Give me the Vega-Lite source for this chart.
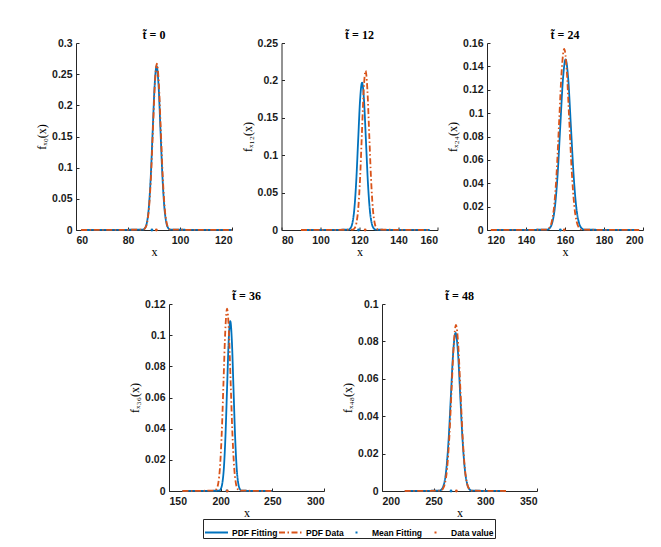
{
  "$schema": "https://vega.github.io/schema/vega-lite/v6.json",
  "padding": {"left": 35, "top": 29, "right": 5, "bottom": 2},
  "spacing": 32,
  "datasets": {
    "curves": [
      {"t": 0, "series": "PDF Fitting", "x": 62, "y": 0},
      {"t": 0, "series": "PDF Fitting", "x": 85.75, "y": 0.0006},
      {"t": 0, "series": "PDF Fitting", "x": 86.5, "y": 0.0029},
      {"t": 0, "series": "PDF Fitting", "x": 87.25, "y": 0.0115},
      {"t": 0, "series": "PDF Fitting", "x": 88, "y": 0.0356},
      {"t": 0, "series": "PDF Fitting", "x": 88.75, "y": 0.0854},
      {"t": 0, "series": "PDF Fitting", "x": 89.5, "y": 0.1595},
      {"t": 0, "series": "PDF Fitting", "x": 90.25, "y": 0.2321},
      {"t": 0, "series": "PDF Fitting", "x": 91, "y": 0.263},
      {"t": 0, "series": "PDF Fitting", "x": 91.75, "y": 0.2321},
      {"t": 0, "series": "PDF Fitting", "x": 92.5, "y": 0.1595},
      {"t": 0, "series": "PDF Fitting", "x": 93.25, "y": 0.0854},
      {"t": 0, "series": "PDF Fitting", "x": 94, "y": 0.0356},
      {"t": 0, "series": "PDF Fitting", "x": 94.75, "y": 0.0115},
      {"t": 0, "series": "PDF Fitting", "x": 95.5, "y": 0.0029},
      {"t": 0, "series": "PDF Fitting", "x": 96.25, "y": 0.0006},
      {"t": 0, "series": "PDF Fitting", "x": 120, "y": 0},
      {"t": 0, "series": "PDF Data", "x": 62, "y": 0},
      {"t": 0, "series": "PDF Data", "x": 85.85, "y": 0.0006},
      {"t": 0, "series": "PDF Data", "x": 86.6, "y": 0.003},
      {"t": 0, "series": "PDF Data", "x": 87.35, "y": 0.0117},
      {"t": 0, "series": "PDF Data", "x": 88.1, "y": 0.0361},
      {"t": 0, "series": "PDF Data", "x": 88.85, "y": 0.0867},
      {"t": 0, "series": "PDF Data", "x": 89.6, "y": 0.1619},
      {"t": 0, "series": "PDF Data", "x": 90.35, "y": 0.2356},
      {"t": 0, "series": "PDF Data", "x": 91.1, "y": 0.267},
      {"t": 0, "series": "PDF Data", "x": 91.85, "y": 0.2356},
      {"t": 0, "series": "PDF Data", "x": 92.6, "y": 0.1619},
      {"t": 0, "series": "PDF Data", "x": 93.35, "y": 0.0867},
      {"t": 0, "series": "PDF Data", "x": 94.1, "y": 0.0361},
      {"t": 0, "series": "PDF Data", "x": 94.85, "y": 0.0117},
      {"t": 0, "series": "PDF Data", "x": 95.6, "y": 0.003},
      {"t": 0, "series": "PDF Data", "x": 96.35, "y": 0.0006},
      {"t": 0, "series": "PDF Data", "x": 120, "y": 0},
      {"t": 12, "series": "PDF Fitting", "x": 90, "y": 0},
      {"t": 12, "series": "PDF Fitting", "x": 114.3, "y": 0.0004},
      {"t": 12, "series": "PDF Fitting", "x": 115.3, "y": 0.0022},
      {"t": 12, "series": "PDF Fitting", "x": 116.3, "y": 0.0086},
      {"t": 12, "series": "PDF Fitting", "x": 117.3, "y": 0.0267},
      {"t": 12, "series": "PDF Fitting", "x": 118.3, "y": 0.064},
      {"t": 12, "series": "PDF Fitting", "x": 119.3, "y": 0.1195},
      {"t": 12, "series": "PDF Fitting", "x": 120.3, "y": 0.1739},
      {"t": 12, "series": "PDF Fitting", "x": 121.3, "y": 0.197},
      {"t": 12, "series": "PDF Fitting", "x": 122.3, "y": 0.1739},
      {"t": 12, "series": "PDF Fitting", "x": 123.3, "y": 0.1195},
      {"t": 12, "series": "PDF Fitting", "x": 124.3, "y": 0.064},
      {"t": 12, "series": "PDF Fitting", "x": 125.3, "y": 0.0267},
      {"t": 12, "series": "PDF Fitting", "x": 126.3, "y": 0.0086},
      {"t": 12, "series": "PDF Fitting", "x": 127.3, "y": 0.0022},
      {"t": 12, "series": "PDF Fitting", "x": 128.3, "y": 0.0004},
      {"t": 12, "series": "PDF Fitting", "x": 156, "y": 0},
      {"t": 12, "series": "PDF Data", "x": 90, "y": 0},
      {"t": 12, "series": "PDF Data", "x": 116.56, "y": 0.0005},
      {"t": 12, "series": "PDF Data", "x": 117.49, "y": 0.0024},
      {"t": 12, "series": "PDF Data", "x": 118.43, "y": 0.0094},
      {"t": 12, "series": "PDF Data", "x": 119.36, "y": 0.0288},
      {"t": 12, "series": "PDF Data", "x": 120.3, "y": 0.0692},
      {"t": 12, "series": "PDF Data", "x": 121.23, "y": 0.1292},
      {"t": 12, "series": "PDF Data", "x": 122.17, "y": 0.188},
      {"t": 12, "series": "PDF Data", "x": 123.1, "y": 0.213},
      {"t": 12, "series": "PDF Data", "x": 124.04, "y": 0.188},
      {"t": 12, "series": "PDF Data", "x": 124.97, "y": 0.1292},
      {"t": 12, "series": "PDF Data", "x": 125.91, "y": 0.0692},
      {"t": 12, "series": "PDF Data", "x": 126.84, "y": 0.0288},
      {"t": 12, "series": "PDF Data", "x": 127.78, "y": 0.0094},
      {"t": 12, "series": "PDF Data", "x": 128.71, "y": 0.0024},
      {"t": 12, "series": "PDF Data", "x": 129.65, "y": 0.0005},
      {"t": 12, "series": "PDF Data", "x": 156, "y": 0},
      {"t": 24, "series": "PDF Fitting", "x": 122, "y": 0},
      {"t": 24, "series": "PDF Fitting", "x": 150.75, "y": 0.0003},
      {"t": 24, "series": "PDF Fitting", "x": 152.11, "y": 0.0016},
      {"t": 24, "series": "PDF Fitting", "x": 153.48, "y": 0.0064},
      {"t": 24, "series": "PDF Fitting", "x": 154.84, "y": 0.0198},
      {"t": 24, "series": "PDF Fitting", "x": 156.21, "y": 0.0474},
      {"t": 24, "series": "PDF Fitting", "x": 157.57, "y": 0.0885},
      {"t": 24, "series": "PDF Fitting", "x": 158.94, "y": 0.1288},
      {"t": 24, "series": "PDF Fitting", "x": 160.3, "y": 0.146},
      {"t": 24, "series": "PDF Fitting", "x": 161.67, "y": 0.1288},
      {"t": 24, "series": "PDF Fitting", "x": 163.03, "y": 0.0885},
      {"t": 24, "series": "PDF Fitting", "x": 164.4, "y": 0.0474},
      {"t": 24, "series": "PDF Fitting", "x": 165.76, "y": 0.0198},
      {"t": 24, "series": "PDF Fitting", "x": 167.13, "y": 0.0064},
      {"t": 24, "series": "PDF Fitting", "x": 168.49, "y": 0.0016},
      {"t": 24, "series": "PDF Fitting", "x": 169.86, "y": 0.0003},
      {"t": 24, "series": "PDF Fitting", "x": 198, "y": 0},
      {"t": 24, "series": "PDF Data", "x": 122, "y": 0},
      {"t": 24, "series": "PDF Data", "x": 150.61, "y": 0.0003},
      {"t": 24, "series": "PDF Data", "x": 151.89, "y": 0.0017},
      {"t": 24, "series": "PDF Data", "x": 153.18, "y": 0.0068},
      {"t": 24, "series": "PDF Data", "x": 154.46, "y": 0.021},
      {"t": 24, "series": "PDF Data", "x": 155.75, "y": 0.0503},
      {"t": 24, "series": "PDF Data", "x": 157.03, "y": 0.094},
      {"t": 24, "series": "PDF Data", "x": 158.32, "y": 0.1368},
      {"t": 24, "series": "PDF Data", "x": 159.6, "y": 0.155},
      {"t": 24, "series": "PDF Data", "x": 160.89, "y": 0.1368},
      {"t": 24, "series": "PDF Data", "x": 162.17, "y": 0.094},
      {"t": 24, "series": "PDF Data", "x": 163.46, "y": 0.0503},
      {"t": 24, "series": "PDF Data", "x": 164.74, "y": 0.021},
      {"t": 24, "series": "PDF Data", "x": 166.03, "y": 0.0068},
      {"t": 24, "series": "PDF Data", "x": 167.31, "y": 0.0017},
      {"t": 24, "series": "PDF Data", "x": 168.6, "y": 0.0003},
      {"t": 24, "series": "PDF Data", "x": 198, "y": 0},
      {"t": 36, "series": "PDF Fitting", "x": 163, "y": 0},
      {"t": 36, "series": "PDF Fitting", "x": 198.45, "y": 0.0002},
      {"t": 36, "series": "PDF Fitting", "x": 200, "y": 0.0012},
      {"t": 36, "series": "PDF Fitting", "x": 201.55, "y": 0.0048},
      {"t": 36, "series": "PDF Fitting", "x": 203.1, "y": 0.0147},
      {"t": 36, "series": "PDF Fitting", "x": 204.65, "y": 0.0354},
      {"t": 36, "series": "PDF Fitting", "x": 206.2, "y": 0.0661},
      {"t": 36, "series": "PDF Fitting", "x": 207.75, "y": 0.0962},
      {"t": 36, "series": "PDF Fitting", "x": 209.3, "y": 0.109},
      {"t": 36, "series": "PDF Fitting", "x": 210.85, "y": 0.0962},
      {"t": 36, "series": "PDF Fitting", "x": 212.4, "y": 0.0661},
      {"t": 36, "series": "PDF Fitting", "x": 213.95, "y": 0.0354},
      {"t": 36, "series": "PDF Fitting", "x": 215.5, "y": 0.0147},
      {"t": 36, "series": "PDF Fitting", "x": 217.05, "y": 0.0048},
      {"t": 36, "series": "PDF Fitting", "x": 218.6, "y": 0.0012},
      {"t": 36, "series": "PDF Fitting", "x": 220.15, "y": 0.0002},
      {"t": 36, "series": "PDF Fitting", "x": 250, "y": 0},
      {"t": 36, "series": "PDF Data", "x": 163, "y": 0},
      {"t": 36, "series": "PDF Data", "x": 194.3, "y": 0.0003},
      {"t": 36, "series": "PDF Data", "x": 196, "y": 0.0013},
      {"t": 36, "series": "PDF Data", "x": 197.7, "y": 0.0051},
      {"t": 36, "series": "PDF Data", "x": 199.4, "y": 0.0158},
      {"t": 36, "series": "PDF Data", "x": 201.1, "y": 0.038},
      {"t": 36, "series": "PDF Data", "x": 202.8, "y": 0.071},
      {"t": 36, "series": "PDF Data", "x": 204.5, "y": 0.1033},
      {"t": 36, "series": "PDF Data", "x": 206.2, "y": 0.117},
      {"t": 36, "series": "PDF Data", "x": 207.9, "y": 0.1033},
      {"t": 36, "series": "PDF Data", "x": 209.6, "y": 0.071},
      {"t": 36, "series": "PDF Data", "x": 211.3, "y": 0.038},
      {"t": 36, "series": "PDF Data", "x": 213, "y": 0.0158},
      {"t": 36, "series": "PDF Data", "x": 214.7, "y": 0.0051},
      {"t": 36, "series": "PDF Data", "x": 216.4, "y": 0.0013},
      {"t": 36, "series": "PDF Data", "x": 218.1, "y": 0.0003},
      {"t": 36, "series": "PDF Data", "x": 250, "y": 0},
      {"t": 48, "series": "PDF Fitting", "x": 222, "y": 0},
      {"t": 48, "series": "PDF Fitting", "x": 255.45, "y": 0.0002},
      {"t": 48, "series": "PDF Fitting", "x": 257.7, "y": 0.0009},
      {"t": 48, "series": "PDF Fitting", "x": 259.95, "y": 0.0037},
      {"t": 48, "series": "PDF Fitting", "x": 262.2, "y": 0.0114},
      {"t": 48, "series": "PDF Fitting", "x": 264.45, "y": 0.0274},
      {"t": 48, "series": "PDF Fitting", "x": 266.7, "y": 0.0512},
      {"t": 48, "series": "PDF Fitting", "x": 268.95, "y": 0.0746},
      {"t": 48, "series": "PDF Fitting", "x": 271.2, "y": 0.0845},
      {"t": 48, "series": "PDF Fitting", "x": 273.45, "y": 0.0746},
      {"t": 48, "series": "PDF Fitting", "x": 275.7, "y": 0.0512},
      {"t": 48, "series": "PDF Fitting", "x": 277.95, "y": 0.0274},
      {"t": 48, "series": "PDF Fitting", "x": 280.2, "y": 0.0114},
      {"t": 48, "series": "PDF Fitting", "x": 282.45, "y": 0.0037},
      {"t": 48, "series": "PDF Fitting", "x": 284.7, "y": 0.0009},
      {"t": 48, "series": "PDF Fitting", "x": 286.95, "y": 0.0002},
      {"t": 48, "series": "PDF Fitting", "x": 320, "y": 0},
      {"t": 48, "series": "PDF Data", "x": 222, "y": 0},
      {"t": 48, "series": "PDF Data", "x": 256.55, "y": 0.0002},
      {"t": 48, "series": "PDF Data", "x": 258.7, "y": 0.001},
      {"t": 48, "series": "PDF Data", "x": 260.85, "y": 0.0039},
      {"t": 48, "series": "PDF Data", "x": 263, "y": 0.012},
      {"t": 48, "series": "PDF Data", "x": 265.15, "y": 0.0288},
      {"t": 48, "series": "PDF Data", "x": 267.3, "y": 0.0539},
      {"t": 48, "series": "PDF Data", "x": 269.45, "y": 0.0784},
      {"t": 48, "series": "PDF Data", "x": 271.6, "y": 0.0888},
      {"t": 48, "series": "PDF Data", "x": 273.75, "y": 0.0784},
      {"t": 48, "series": "PDF Data", "x": 275.9, "y": 0.0539},
      {"t": 48, "series": "PDF Data", "x": 278.05, "y": 0.0288},
      {"t": 48, "series": "PDF Data", "x": 280.2, "y": 0.012},
      {"t": 48, "series": "PDF Data", "x": 282.35, "y": 0.0039},
      {"t": 48, "series": "PDF Data", "x": 284.5, "y": 0.001},
      {"t": 48, "series": "PDF Data", "x": 286.65, "y": 0.0002},
      {"t": 48, "series": "PDF Data", "x": 320, "y": 0}
    ],
    "means": [
      {"t": 0, "series": "Mean Fitting", "x": 89.2, "y": 0},
      {"t": 0, "series": "Data value", "x": 90.9, "y": 0},
      {"t": 12, "series": "Mean Fitting", "x": 119.5, "y": 0},
      {"t": 12, "series": "Data value", "x": 122.9, "y": 0},
      {"t": 24, "series": "Mean Fitting", "x": 157.6, "y": 0},
      {"t": 24, "series": "Data value", "x": 159.6, "y": 0},
      {"t": 36, "series": "Mean Fitting", "x": 206, "y": 0},
      {"t": 36, "series": "Data value", "x": 206.4, "y": 0},
      {"t": 48, "series": "Mean Fitting", "x": 266.8, "y": 0},
      {"t": 48, "series": "Data value", "x": 272, "y": 0}
    ]
  },
  "vconcat": [
    {
      "hconcat": [
        {
          "width": 156, "height": 187,
          "title": "t\u0303 = 0",
          "encoding": {
            "x": {"field": "x", "type": "quantitative", "scale": {"domain": [60, 120], "nice": false, "zero": false}, "axis": {"values": [60, 80, 100, 120], "title": "x"}},
            "y": {"field": "y", "type": "quantitative", "scale": {"domain": [0, 0.3], "nice": false}, "axis": {"values": [0, 0.05, 0.1, 0.15, 0.2, 0.25, 0.3], "format": ".2~f", "title": "fₓ₀(x)"}}
          },
          "layer": [
            {"data": {"name": "curves"}, "transform": [{"filter": "datum.t == 0 && datum.series == 'PDF Fitting'"}], "mark": {"type": "line", "interpolate": "monotone", "strokeWidth": 1.8},
             "encoding": {
               "color": {"field": "series", "type": "nominal", "scale": {"domain": ["PDF Fitting", "PDF Data", "Mean Fitting", "Data value"], "range": ["#0072BD", "#D95319", "#0072BD", "#D95319"]}, "legend": {"title": null, "symbolType": "stroke"}},
               "strokeDash": {"field": "series", "type": "nominal", "scale": {"domain": ["PDF Fitting", "PDF Data", "Mean Fitting", "Data value"], "range": [[1, 0], [6, 2.5, 1.5, 2.5], [0, 10.5, 2, 100], [0, 10.5, 2, 100]]}, "legend": {"title": null, "symbolType": "stroke"}}
             }},
            {"data": {"name": "curves"}, "transform": [{"filter": "datum.t == 0 && datum.series == 'PDF Data'"}], "mark": {"type": "line", "interpolate": "monotone", "strokeWidth": 1.8},
             "encoding": {
               "color": {"field": "series", "type": "nominal", "legend": {"title": null, "symbolType": "stroke"}},
               "strokeDash": {"field": "series", "type": "nominal", "legend": {"title": null, "symbolType": "stroke"}}
             }},
            {"data": {"name": "means"}, "transform": [{"filter": "datum.t == 0"}], "mark": {"type": "point", "filled": true, "size": 8, "opacity": 1},
             "encoding": {"color": {"field": "series", "type": "nominal", "legend": null}}}
          ]
        },
        {
          "width": 156, "height": 187,
          "title": "t\u0303 = 12",
          "encoding": {
            "x": {"field": "x", "type": "quantitative", "scale": {"domain": [80, 160], "nice": false, "zero": false}, "axis": {"values": [80, 100, 120, 140, 160], "title": "x"}},
            "y": {"field": "y", "type": "quantitative", "scale": {"domain": [0, 0.25], "nice": false}, "axis": {"values": [0, 0.05, 0.1, 0.15, 0.2, 0.25], "format": ".2~f", "title": "fₓ₁₂(x)"}}
          },
          "layer": [
            {"data": {"name": "curves"}, "transform": [{"filter": "datum.t == 12 && datum.series == 'PDF Fitting'"}], "mark": {"type": "line", "interpolate": "monotone", "strokeWidth": 1.8},
             "encoding": {
               "color": {"field": "series", "type": "nominal", "legend": {"title": null, "symbolType": "stroke"}},
               "strokeDash": {"field": "series", "type": "nominal", "legend": {"title": null, "symbolType": "stroke"}}
             }},
            {"data": {"name": "curves"}, "transform": [{"filter": "datum.t == 12 && datum.series == 'PDF Data'"}], "mark": {"type": "line", "interpolate": "monotone", "strokeWidth": 1.8},
             "encoding": {
               "color": {"field": "series", "type": "nominal", "legend": {"title": null, "symbolType": "stroke"}},
               "strokeDash": {"field": "series", "type": "nominal", "legend": {"title": null, "symbolType": "stroke"}}
             }},
            {"data": {"name": "means"}, "transform": [{"filter": "datum.t == 12"}], "mark": {"type": "point", "filled": true, "size": 8, "opacity": 1},
             "encoding": {"color": {"field": "series", "type": "nominal", "legend": null}}}
          ]
        },
        {
          "width": 156, "height": 187,
          "title": "t\u0303 = 24",
          "encoding": {
            "x": {"field": "x", "type": "quantitative", "scale": {"domain": [120, 200], "nice": false, "zero": false}, "axis": {"values": [120, 140, 160, 180, 200], "title": "x"}},
            "y": {"field": "y", "type": "quantitative", "scale": {"domain": [0, 0.16], "nice": false}, "axis": {"values": [0, 0.02, 0.04, 0.06, 0.08, 0.1, 0.12, 0.14, 0.16], "format": ".2~f", "title": "fₓ₂₄(x)"}}
          },
          "layer": [
            {"data": {"name": "curves"}, "transform": [{"filter": "datum.t == 24 && datum.series == 'PDF Fitting'"}], "mark": {"type": "line", "interpolate": "monotone", "strokeWidth": 1.8},
             "encoding": {
               "color": {"field": "series", "type": "nominal", "legend": {"title": null, "symbolType": "stroke"}},
               "strokeDash": {"field": "series", "type": "nominal", "legend": {"title": null, "symbolType": "stroke"}}
             }},
            {"data": {"name": "curves"}, "transform": [{"filter": "datum.t == 24 && datum.series == 'PDF Data'"}], "mark": {"type": "line", "interpolate": "monotone", "strokeWidth": 1.8},
             "encoding": {
               "color": {"field": "series", "type": "nominal", "legend": {"title": null, "symbolType": "stroke"}},
               "strokeDash": {"field": "series", "type": "nominal", "legend": {"title": null, "symbolType": "stroke"}}
             }},
            {"data": {"name": "means"}, "transform": [{"filter": "datum.t == 24"}], "mark": {"type": "point", "filled": true, "size": 8, "opacity": 1},
             "encoding": {"color": {"field": "series", "type": "nominal", "legend": null}}}
          ]
        }
      ],
      "bounds": "flush",
      "spacing": 49.5
    },
    {
      "hconcat": [
        {
          "width": 35, "height": 187,
          "data": {"values": []},
          "mark": "point"
        },
        {
          "width": 155, "height": 187,
          "title": "t\u0303 = 36",
          "encoding": {
            "x": {"field": "x", "type": "quantitative", "scale": {"domain": [150, 300], "nice": false, "zero": false}, "axis": {"values": [150, 200, 250, 300], "title": "x"}},
            "y": {"field": "y", "type": "quantitative", "scale": {"domain": [0, 0.12], "nice": false}, "axis": {"values": [0, 0.02, 0.04, 0.06, 0.08, 0.1, 0.12], "format": ".2~f", "title": "fₓ₃₆(x)"}}
          },
          "layer": [
            {"data": {"name": "curves"}, "transform": [{"filter": "datum.t == 36 && datum.series == 'PDF Fitting'"}], "mark": {"type": "line", "interpolate": "monotone", "strokeWidth": 1.8},
             "encoding": {
               "color": {"field": "series", "type": "nominal", "legend": {"title": null, "symbolType": "stroke"}},
               "strokeDash": {"field": "series", "type": "nominal", "legend": {"title": null, "symbolType": "stroke"}}
             }},
            {"data": {"name": "curves"}, "transform": [{"filter": "datum.t == 36 && datum.series == 'PDF Data'"}], "mark": {"type": "line", "interpolate": "monotone", "strokeWidth": 1.8},
             "encoding": {
               "color": {"field": "series", "type": "nominal", "legend": {"title": null, "symbolType": "stroke"}},
               "strokeDash": {"field": "series", "type": "nominal", "legend": {"title": null, "symbolType": "stroke"}}
             }},
            {"data": {"name": "means"}, "transform": [{"filter": "datum.t == 36"}], "mark": {"type": "point", "filled": true, "size": 8, "opacity": 1},
             "encoding": {"color": {"field": "series", "type": "nominal", "legend": null}}}
          ]
        },
        {
          "width": 155, "height": 187,
          "title": "t\u0303 = 48",
          "encoding": {
            "x": {"field": "x", "type": "quantitative", "scale": {"domain": [200, 350], "nice": false, "zero": false}, "axis": {"values": [200, 250, 300, 350], "title": "x"}},
            "y": {"field": "y", "type": "quantitative", "scale": {"domain": [0, 0.1], "nice": false}, "axis": {"values": [0, 0.02, 0.04, 0.06, 0.08, 0.1], "format": ".2~f", "title": "fₓ₄₈(x)"}}
          },
          "layer": [
            {"data": {"name": "curves"}, "transform": [{"filter": "datum.t == 48 && datum.series == 'PDF Fitting'"}], "mark": {"type": "line", "interpolate": "monotone", "strokeWidth": 1.8},
             "encoding": {
               "color": {"field": "series", "type": "nominal", "legend": {"title": null, "symbolType": "stroke"}},
               "strokeDash": {"field": "series", "type": "nominal", "legend": {"title": null, "symbolType": "stroke"}}
             }},
            {"data": {"name": "curves"}, "transform": [{"filter": "datum.t == 48 && datum.series == 'PDF Data'"}], "mark": {"type": "line", "interpolate": "monotone", "strokeWidth": 1.8},
             "encoding": {
               "color": {"field": "series", "type": "nominal", "legend": {"title": null, "symbolType": "stroke"}},
               "strokeDash": {"field": "series", "type": "nominal", "legend": {"title": null, "symbolType": "stroke"}}
             }},
            {"data": {"name": "means"}, "transform": [{"filter": "datum.t == 48"}], "mark": {"type": "point", "filled": true, "size": 8, "opacity": 1},
             "encoding": {"color": {"field": "series", "type": "nominal", "legend": null}}}
          ]
        }
      ],
      "bounds": "flush",
      "spacing": 58
    }
  ],
  "config": {
    "view": {"stroke": null},
    "axis": {
      "grid": false,
      "domainColor": "#262626",
      "tickColor": "#262626",
      "labelColor": "#1a1a1a",
      "labelFont": "Liberation Sans",
      "labelFontWeight": "bold",
      "labelFontSize": 10.5,
      "tickSize": -3,
      "titleFont": "Liberation Serif",
      "titleFontWeight": "normal",
      "titleFontSize": 12,
      "titleColor": "#000000"
    },
    "axisX": {"labelPadding": 8, "titlePadding": 1},
    "axisY": {"labelPadding": 7, "titlePadding": 3},
    "title": {"font": "Liberation Serif", "fontSize": 12, "fontWeight": "bold", "color": "#000000", "offset": -4},
    "legend": {
      "orient": "none",
      "legendX": 127,
      "legendY": 476,
      "direction": "horizontal",
      "columns": 4,
      "symbolSize": 529,
      "symbolStrokeWidth": 2,
      "labelFont": "Liberation Sans",
      "labelFontWeight": "bold",
      "labelFontSize": 8.5,
      "labelColor": "#000000",
      "labelOffset": 3,
      "columnPadding": -8,
      "padding": 1,
      "strokeColor": "#262626",
      "fillColor": "#ffffff"
    }
  }
}
